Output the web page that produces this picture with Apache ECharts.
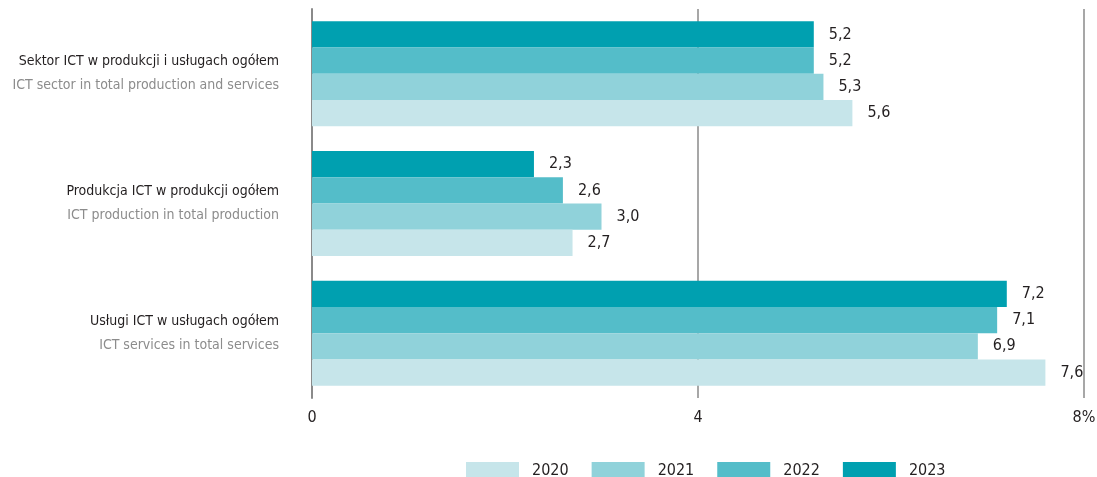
<!DOCTYPE html>
<html>
<head>
<meta charset="utf-8">
<script src="https://cdn.jsdelivr.net/npm/echarts@6/dist/echarts.min.js"></script>
<style>html,body{margin:0;padding:0;background:#fff}#c{width:1097px;height:477px}</style>
</head>
<body>
<div id="c"></div>
<script>
const categoriesPL = ['Sektor ICT w produkcji i usługach ogółem', 'Produkcja ICT w produkcji ogółem', 'Usługi ICT w usługach ogółem'];
const categoriesEN = ['ICT sector in total production and services', 'ICT production in total production', 'ICT services in total services'];
const years = ['2020', '2021', '2022', '2023'];
const v2020 = [5.6, 2.7, 7.6];
const v2021 = [5.3, 3.0, 6.9];
const v2022 = [5.2, 2.6, 7.1];
const v2023 = [5.2, 2.3, 7.2];
const xTicks = [0, 4, 8];

const colors = {'2020': '#c6e5ea', '2021': '#90d2da', '2022': '#54bdc9', '2023': '#00a0b0'};
const valuesByYear = {'2020': v2020, '2021': v2021, '2022': v2022, '2023': v2023};
const FONT = '"Liberation Sans Narrow", "DejaVu Sans Condensed", sans-serif';

const chart = echarts.init(document.getElementById('c'));
const seriesOrder = ['2023', '2022', '2021', '2020'];
chart.setOption({
  animation: false,
  textStyle: {fontFamily: FONT},
  grid: {left: 312, right: 13, top: 9, bottom: 79, containLabel: false, outerBoundsMode: 'none'},
  legend: {
    data: years,
    left: 461, top: 457,
    itemWidth: 53, itemHeight: 18, itemGap: 23,
    icon: 'rect',
    textStyle: {fontFamily: FONT, fontSize: 16, color: '#231f20', padding: [0, 0, 0, 8]}
  },
  xAxis: {
    type: 'value', min: xTicks[0], max: xTicks[xTicks.length - 1], interval: 4,
    axisLine: {show: false}, axisTick: {show: false},
    splitLine: {show: true, lineStyle: {color: '#8a8a8a', width: 1.5}},
    axisLabel: {
      fontFamily: FONT, fontSize: 16, color: '#231f20', margin: 12,
      formatter: v => v === 8 ? '8%' : String(v)
    }
  },
  yAxis: {
    type: 'category', inverse: true,
    data: categoriesPL,
    axisLine: {show: true, lineStyle: {color: '#8a8a8a', width: 2}},
    axisTick: {show: false},
    axisLabel: {
      margin: 33, align: 'right',
      formatter: (v, i) => '{a|' + v + '}\n{b|' + categoriesEN[i] + '}',
      rich: {
        a: {fontFamily: FONT, fontSize: 14, color: '#231f20', lineHeight: 24, align: 'right'},
        b: {fontFamily: FONT, fontSize: 14, color: '#8c8c8c', lineHeight: 24, align: 'right'}
      }
    }
  },
  series: seriesOrder.map(y => ({
    name: y, type: 'bar',
    data: valuesByYear[y],
    itemStyle: {color: colors[y]},
    barGap: '0%', barCategoryGap: '19%',
    label: {
      show: true, position: 'right', distance: 15,
      fontFamily: FONT, fontSize: 16, color: '#231f20',
      formatter: p => p.value.toFixed(1).replace('.', ',')
    }
  }))
});
</script>
</body>
</html>
